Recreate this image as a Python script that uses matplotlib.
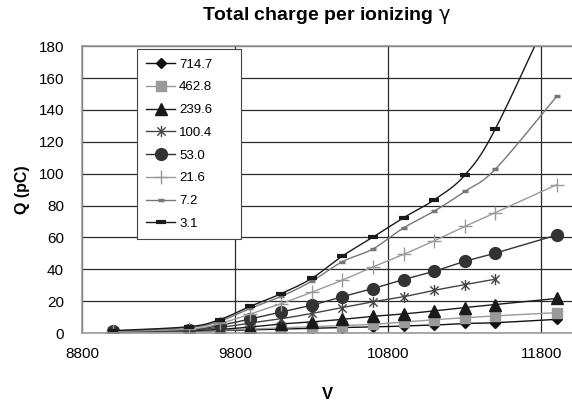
import numpy as np
import matplotlib
matplotlib.use("Agg")
import matplotlib.pyplot as plt
from matplotlib.path import Path

plt.rcParams['font.family'] = ['Liberation Sans', 'DejaVu Sans']

# bias voltage (V)
volts = [9000, 9500, 9700, 9900, 10100, 10300, 10500, 10700, 10900, 11100, 11300, 11500, 11900]

# total charge (pC) for each gamma rate setting
labels = ["714.7", "462.8", "239.6", "100.4", "53.0", "21.6", "7.2", "3.1"]
q_714 = [0.6, 1.2, 1.5, 2.0, 2.5, 3.0, 3.4, 3.8, 4.4, 5.0, 6.0, 6.5, 8.6]
q_462 = [0.7, 1.4, 1.8, 2.5, 3.2, 4.0, 4.7, 5.5, 6.9, 8.4, 9.6, 10.8, 12.8]
q_239 = [0.8, 1.6, 2.3, 3.8, 5.7, 7.0, 8.6, 10.5, 12.0, 13.9, 16.0, 17.9, 21.7]
q_100 = [0.9, 2.0, 3.5, 6.3, 9.0, 12.3, 16.0, 19.6, 22.8, 26.8, 30.4, 33.8, np.nan]
q_53 = [1.0, 2.2, 4.8, 8.9, 13.3, 17.5, 22.8, 27.9, 33.6, 38.8, 45.0, 50.2, 61.5]
q_21 = [1.0, 2.5, 6.0, 12.0, 18.4, 25.6, 33.2, 41.5, 49.4, 57.9, 66.9, 75.6, 93.1]
q_7 = [1.3, 3.5, 7.5, 15.5, 23.0, 32.5, 44.8, 52.8, 66.0, 76.5, 88.9, 102.9, 148.5]
q_3 = [1.5, 4.0, 8.5, 16.8, 24.7, 34.3, 48.3, 60.2, 72.4, 83.6, 99.1, 128.2, 210.0]

series = [q_714, q_462, q_239, q_100, q_53, q_21, q_7, q_3]

# asterisk: x plus a vertical bar
star = Path([(0, -1), (0, 1), (-0.75, -0.75), (0.75, 0.75), (-0.75, 0.75), (0.75, -0.75)],
            [Path.MOVETO, Path.LINETO, Path.MOVETO, Path.LINETO, Path.MOVETO, Path.LINETO])

styles = [
    dict(color="#111111", marker="D", ms=5.5),
    dict(color="#9a9a9a", marker="s", ms=7),
    dict(color="#1a1a1a", marker="^", ms=8),
    dict(color="#444444", marker=star, ms=8, mfc="none", mew=1),
    dict(color="#333333", marker="o", ms=8.5),
    dict(color="#9a9a9a", marker="+", ms=10, mew=1),
    dict(color="#777777", marker="_", ms=5, mew=2.5),
    dict(color="#1a1a1a", marker="_", ms=7.5, mew=3),
]


def smooth(x, y, n=20):
    # uniform Catmull-Rom curve through the points
    pts = np.column_stack([x, y])
    p = np.vstack([pts[0], pts, pts[-1]])
    out = []
    t = np.linspace(0, 1, n, endpoint=False)[:, None]
    for i in range(1, len(p) - 2):
        p0, p1, p2, p3 = p[i - 1], p[i], p[i + 1], p[i + 2]
        seg = 0.5 * ((2 * p1) + (-p0 + p2) * t + (2 * p0 - 5 * p1 + 4 * p2 - p3) * t ** 2
                     + (-p0 + 3 * p1 - 3 * p2 + p3) * t ** 3)
        out.append(seg)
    out.append(pts[-1:])
    out = np.vstack(out)
    return out[:, 0], out[:, 1], list(range(0, len(out), n))


fig = plt.figure(figsize=(5.72, 4.2), dpi=100)
ax = fig.add_axes([0.1434, 0.207, 0.8566, 0.683])

for vals, lab, st in zip(series, labels, styles):
    x = np.array(volts, dtype=float)
    y = np.array(vals, dtype=float)
    ok = ~np.isnan(y)
    xs, ys, idx = smooth(x[ok], y[ok])
    ax.plot(xs, ys, lw=1.0, markevery=idx, label=lab, **st)

ax.set_xlim(8800, 12000)
ax.set_ylim(0, 180)
ax.set_xticks([8800, 9800, 10800, 11800])
ax.set_yticks(range(0, 181, 20))
ax.tick_params(length=0, labelsize=11)
ax.tick_params(axis="y", pad=13)
ax.tick_params(axis="x", pad=10)

ax.grid(True, color="#2a2a2a", lw=0.9)
ax.set_axisbelow(True)
for side in ["left", "bottom", "top"]:
    ax.spines[side].set_color("#999999")
    ax.spines[side].set_linewidth(1.2)
ax.spines["right"].set_visible(False)

ax.set_title("Total charge per ionizing $\\mathrm{\\gamma}$", fontsize=14, fontweight="bold", pad=19)
ax.set_xlabel("V", fontsize=12, fontweight="bold", labelpad=19)
ax.set_ylabel("Q (pC)", fontsize=11.5, fontweight="bold", labelpad=6)

leg = ax.legend(loc="upper left", bbox_to_anchor=(0.112, 0.99, 0.212, 0.0), mode="expand",
                borderaxespad=0, fontsize=9.5, frameon=True, fancybox=False,
                edgecolor="#444444", framealpha=1, handlelength=2.2, labelspacing=0.8,
                borderpad=0.7, handletextpad=0.3)
leg.get_frame().set_linewidth(0.8)

fig.savefig("out.png", dpi=100)
